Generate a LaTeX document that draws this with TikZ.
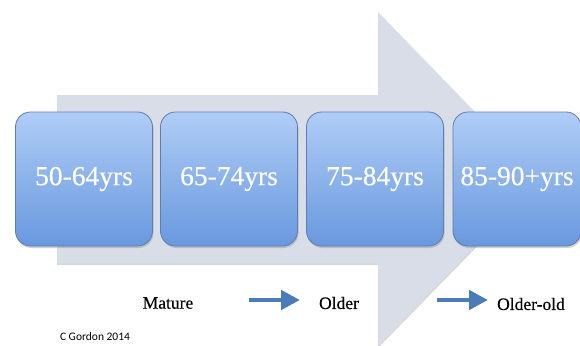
\documentclass[tikz,border=0pt]{standalone}
\usepackage{fontspec}
\setmainfont{Liberation Serif}
\newfontfamily\heavyserif[FakeBold=0.35]{Liberation Serif}
\newfontfamily\credfont{Carlito}
\usetikzlibrary{arrows.meta,shadows}
\definecolor{bgarrow}{RGB}{216,221,231}
\definecolor{boxtop}{RGB}{176,205,246}
\definecolor{boxbot}{RGB}{104,152,222}
\definecolor{boxedge}{RGB}{92,126,176}
\definecolor{smallarrow}{RGB}{74,124,186}
\tikzset{
  agebox/.style={draw=boxedge, line width=0.8pt, rounded corners=15pt,
    top color=boxtop, bottom color=boxbot, minimum height=134pt,
    text=white, font=\heavyserif\fontsize{27.5}{30}\selectfont,
    drop shadow={opacity=0.35, shadow xshift=1pt, shadow yshift=-2pt}},
  stage/.style={text=black, font=\heavyserif\fontsize{17.5}{20}\selectfont, inner sep=0pt},
  stagearrow/.style={draw=smallarrow, line width=4.5pt,
    -{Triangle[length=19pt,width=19pt]}}
}
\begin{document}
\begin{tikzpicture}[x=1pt,y=-1pt]
\useasboundingbox (0,0) rectangle (580,345);
\clip (0,0) rectangle (580,345);
\fill[white] (0,0) rectangle (580,345);
% big background arrow (shadow + body)
\fill[black!25, opacity=0.6] (57,97) -- (378,97) -- (378,14) -- (541,181) -- (378,348) -- (378,265) -- (57,265) -- cycle;
\fill[bgarrow] (57,95) -- (378,95) -- (378,12) -- (540,179) -- (378,346) -- (378,263) -- (57,263) -- cycle;
% age boxes
\node[agebox, minimum width=137pt] (b1) at (84,179) {50-64yrs};
\node[agebox, minimum width=137pt] (b2) at (229,179) {65-74yrs};
\node[agebox, minimum width=137pt] (b3) at (375,179) {75-84yrs};
\node[agebox, minimum width=128pt] (b4) at (517,179) {85-90+yrs};
% stage labels
\node[stage] (mature) at (168,303) {Mature};
\node[stage] (older) at (339,303) {Older};
\node[stage] (olderold) at (531,304) {Older-old};
\coordinate (a1s) at (249,300);
\coordinate (a1e) at (300,300);
\coordinate (a2s) at (437,300);
\coordinate (a2e) at (488,300);
\draw[stagearrow] (a1s) -- (a1e);
\draw[stagearrow] (a2s) -- (a2e);
\node[font=\credfont\fontsize{11.5}{13}\selectfont, inner sep=0pt] (credit) at (95,337) {C Gordon 2014};
\end{tikzpicture}
\end{document}
